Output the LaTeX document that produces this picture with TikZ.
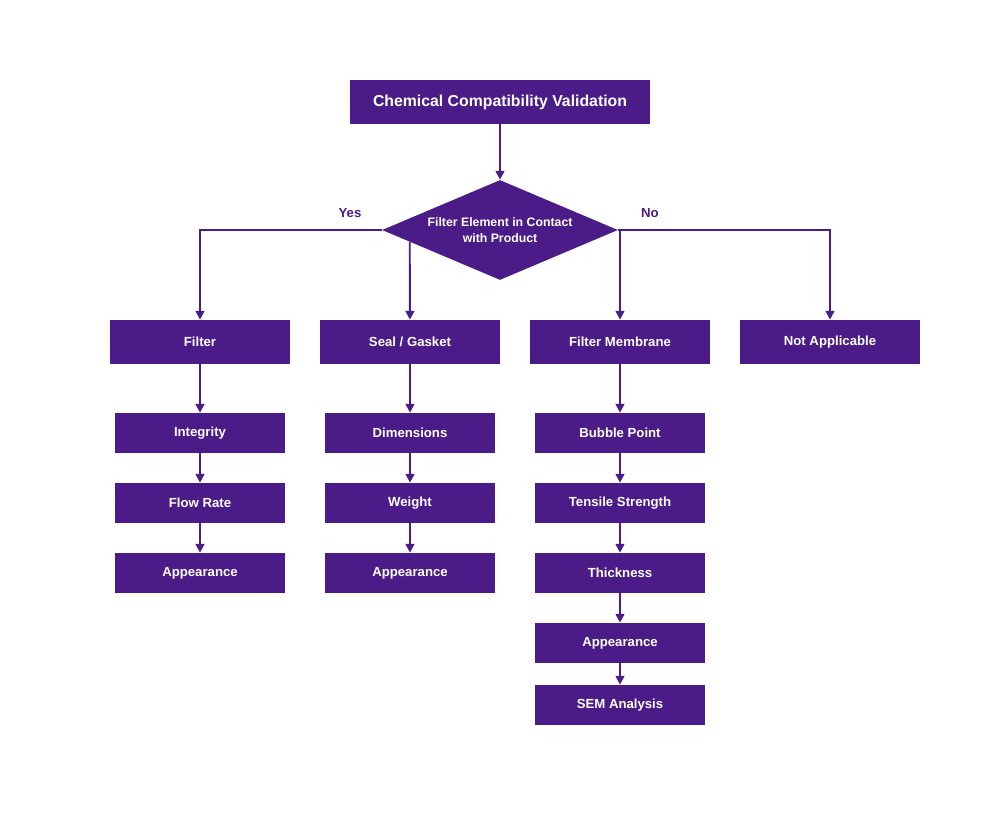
\documentclass[tikz,border=0pt]{standalone}
\usepackage{fontspec}
\setmainfont{Liberation Sans}
\usetikzlibrary{shapes.geometric,arrows.meta,calc}
\definecolor{purp}{HTML}{4B1C87}

\begin{document}
\begin{tikzpicture}[x=0.02cm,y=-0.02cm]
  \tikzset{box/.style={fill=purp,text=white,font=\bfseries\fontsize{7.5}{9}\selectfont,minimum width=3.6cm,minimum height=0.88cm,inner sep=0pt},
    step box/.style={box,minimum width=3.4cm,minimum height=0.8cm},
    link/.style={draw=purp,line width=1.1pt,-{Triangle[width=5pt,length=5pt]}},
    lbl/.style={text=purp,font=\bfseries\fontsize{7.5}{9}\selectfont}}
  \useasboundingbox (0,0) rectangle (1000,820);

  \node[box,minimum width=6cm,font=\bfseries\fontsize{9}{11}\selectfont] (title) at (500,102) {Chemical Compatibility Validation};
  \node[diamond,fill=purp,text=white,font=\bfseries\fontsize{7}{9}\selectfont,minimum width=4.72cm,minimum height=2cm,aspect=2.36,inner sep=0pt,align=center] (check) at (500,230) {Filter Element in Contact\\with Product};

  \node[box] (filter) at (200,342) {Filter};
  \node[box] (seal) at (410,342) {Seal / Gasket};
  \node[box] (membrane) at (620,342) {Filter Membrane};
  \node[box] (na) at (830,342) {Not Applicable};

  \node[step box] (integrity) at (200,433) {Integrity};
  \node[step box] (flow) at (200,503) {Flow Rate};
  \node[step box] (appF) at (200,573) {Appearance};

  \node[step box] (dim) at (410,433) {Dimensions};
  \node[step box] (weight) at (410,503) {Weight};
  \node[step box] (appS) at (410,573) {Appearance};

  \node[step box] (bubble) at (620,433) {Bubble Point};
  \node[step box] (tensile) at (620,503) {Tensile Strength};
  \node[step box] (thick) at (620,573) {Thickness};
  \node[step box] (appM) at (620,643) {Appearance};
  \node[step box] (sem) at (620,705) {SEM Analysis};

  % branches of the decision
  \draw[link] (title) -- (check);
  \draw[link] (check.west) -| (filter);
  \draw[link] ($(check.west)!0.237!(check.south)$) -- (seal);
  \draw[link] (check.east) -| (na);
  \draw[link] (check.east) -| (membrane);
  \node[lbl] at (350,213) {Yes};
  \node[lbl] at (650,213) {No};

  % test chains
  \draw[link] (filter) -- (integrity);
  \draw[link] (integrity) -- (flow);
  \draw[link] (flow) -- (appF);
  \draw[link] (seal) -- (dim);
  \draw[link] (dim) -- (weight);
  \draw[link] (weight) -- (appS);
  \draw[link] (membrane) -- (bubble);
  \draw[link] (bubble) -- (tensile);
  \draw[link] (tensile) -- (thick);
  \draw[link] (thick) -- (appM);
  \draw[link] (appM) -- (sem);
\end{tikzpicture}
\end{document}
